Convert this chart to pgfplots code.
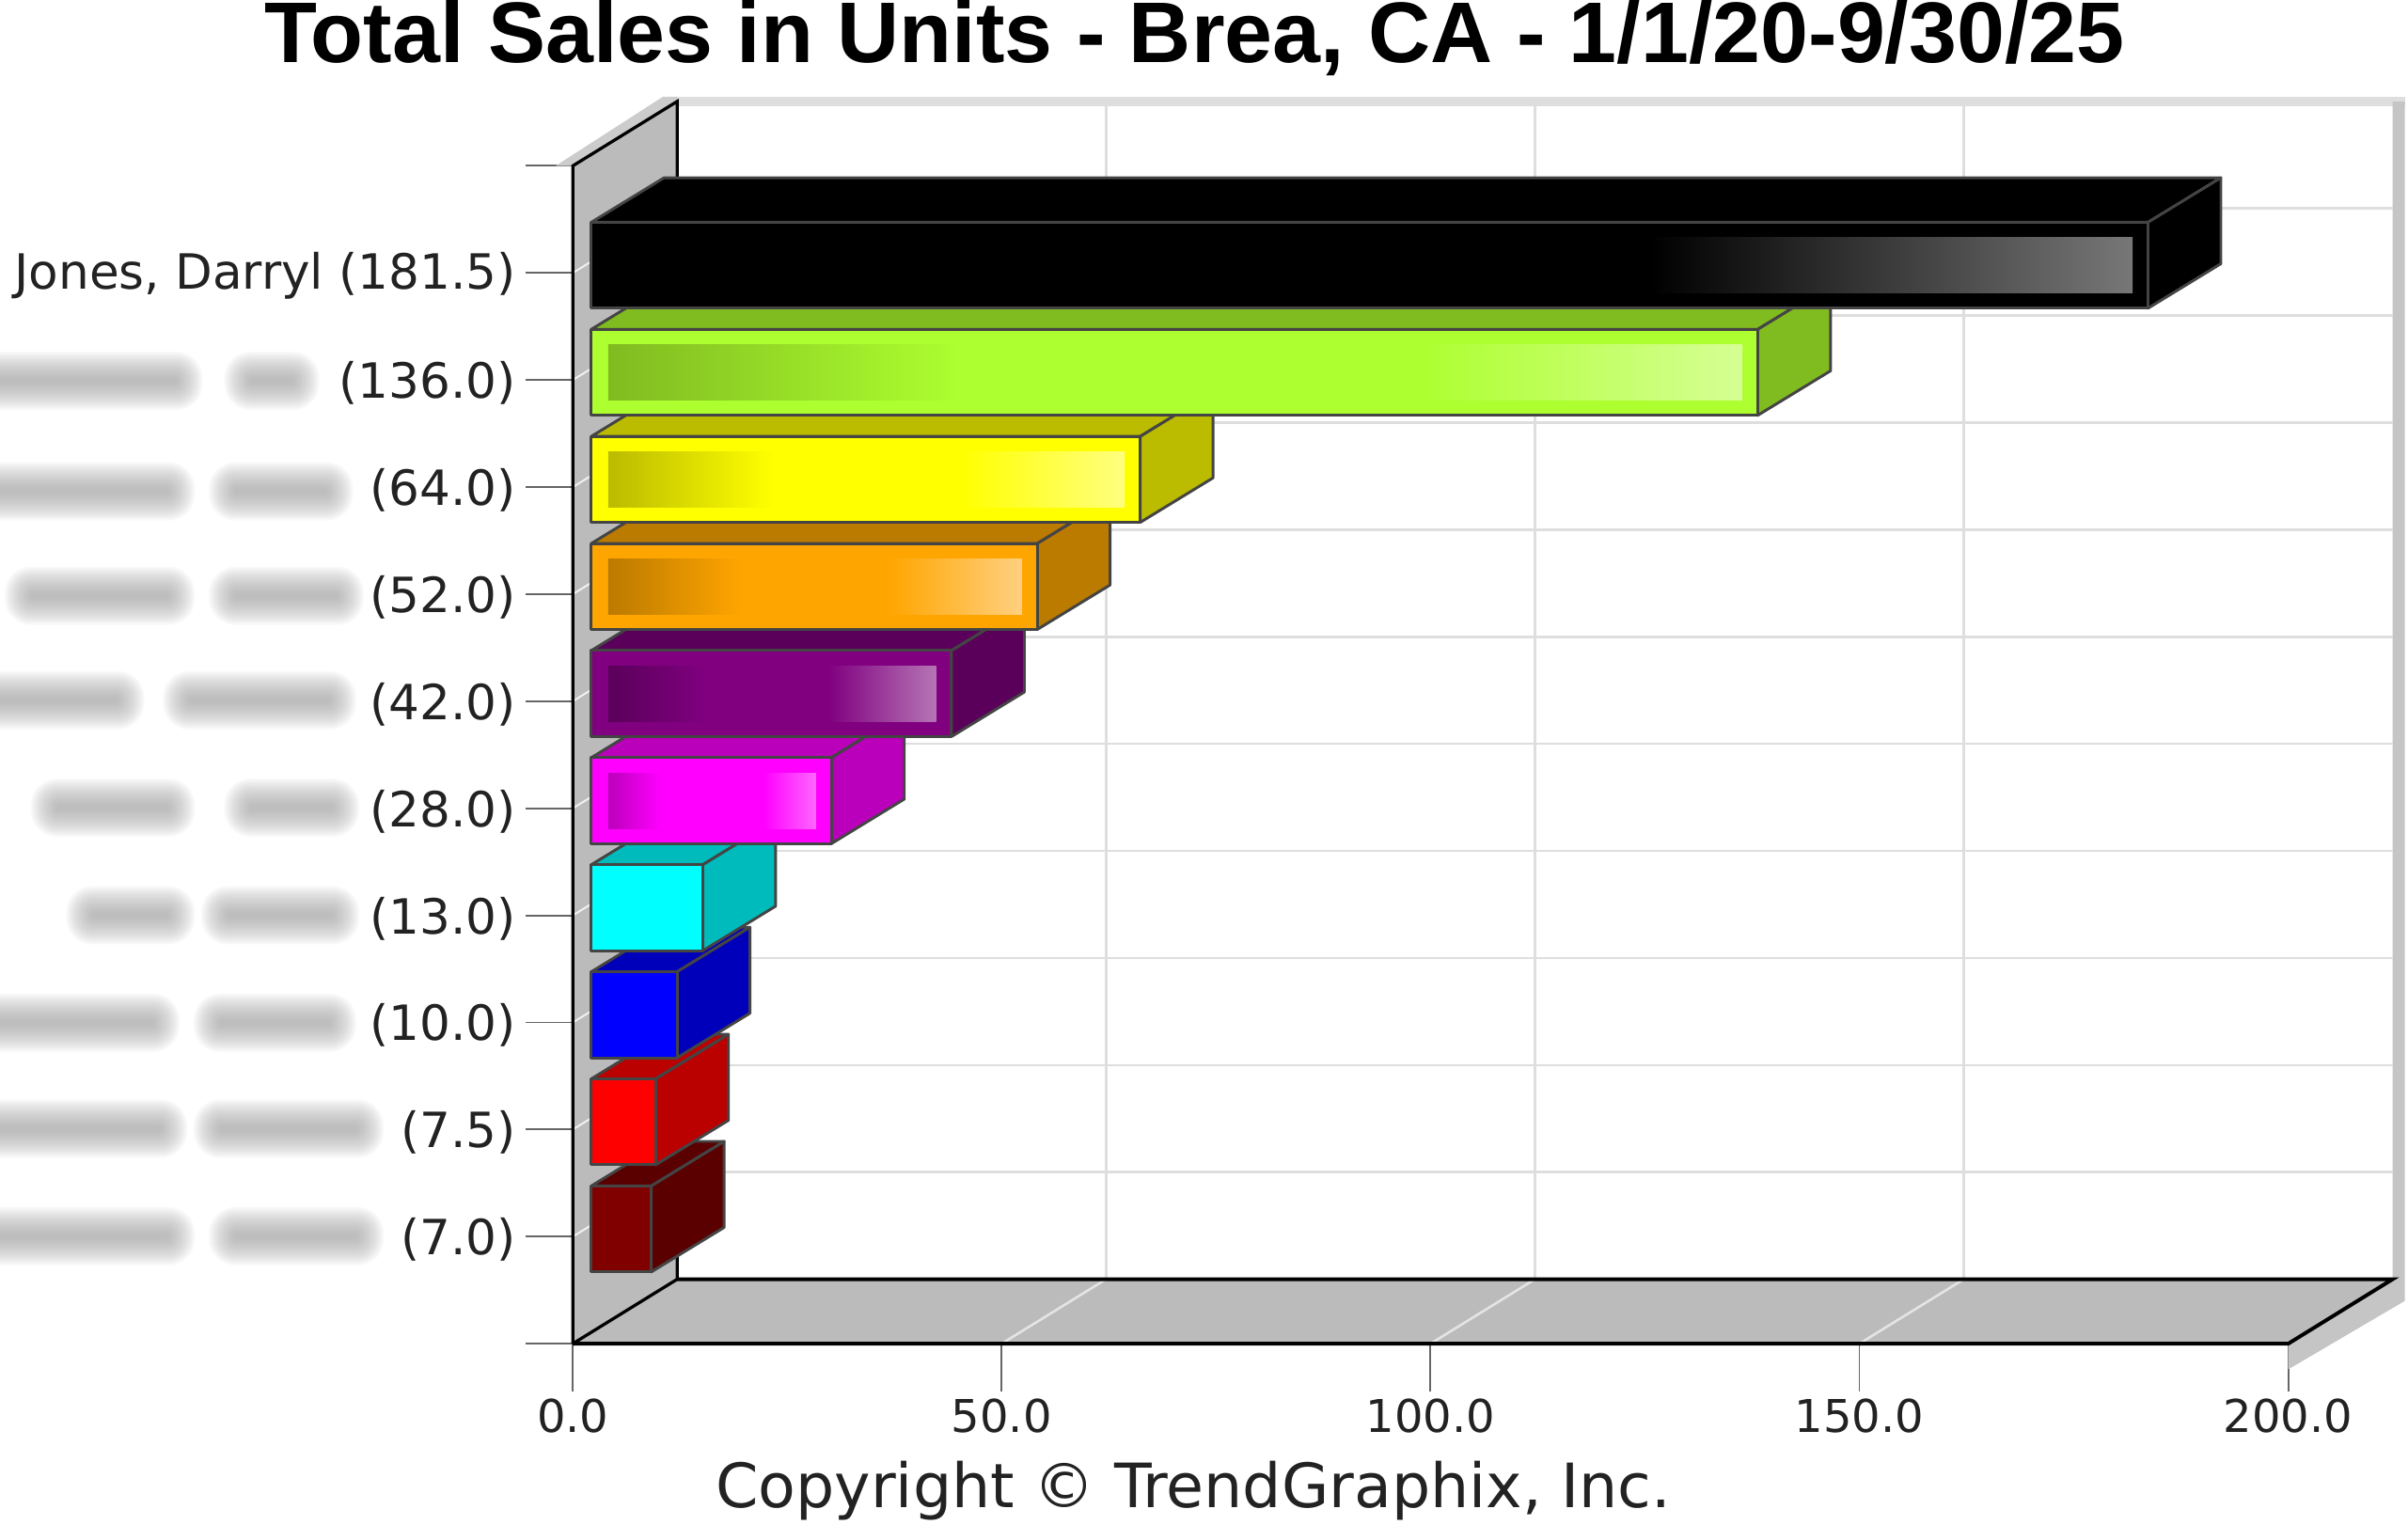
\documentclass[border=0pt]{standalone}
\usepackage{pgfplots}
\pgfplotsset{compat=1.18}
\usepackage{fontspec}
\setmainfont{DejaVu Sans}
\newfontfamily\titlefont{Liberation Sans}
\definecolor{wall}{HTML}{BBBBBB}
\definecolor{gridc}{HTML}{DEDEDE}
\definecolor{edgec}{HTML}{444444}
\definecolor{tickc}{HTML}{666666}
\definecolor{labc}{HTML}{222222}
\definecolor{dredF}{HTML}{800000}\definecolor{dredS}{HTML}{5A0000}
\definecolor{redF}{HTML}{FF0000}\definecolor{redS}{HTML}{BB0000}
\definecolor{bluF}{HTML}{0000FF}\definecolor{bluS}{HTML}{0000BB}
\definecolor{cyaF}{HTML}{00FFFF}\definecolor{cyaS}{HTML}{00BBBB}
\definecolor{magF}{HTML}{FF00FF}\definecolor{magS}{HTML}{BB00BB}\definecolor{magL}{HTML}{FF66FF}
\definecolor{purF}{HTML}{800080}\definecolor{purS}{HTML}{5A005A}\definecolor{purL}{HTML}{B575B5}
\definecolor{oraF}{HTML}{FFA500}\definecolor{oraS}{HTML}{BB7A00}\definecolor{oraL}{HTML}{FFD080}
\definecolor{yelF}{HTML}{FFFF00}\definecolor{yelS}{HTML}{BBBB00}\definecolor{yelL}{HTML}{FFFF80}
\definecolor{greF}{HTML}{ADFF2F}\definecolor{greS}{HTML}{80BB20}\definecolor{greL}{HTML}{D6FF94}
\definecolor{blaL}{HTML}{777777}
% geometry, in data units: bar offset from the wall front, bar depth, wall depth
\def\ox{2.15}\def\wx{12.175}\def\wy{0.602}\def\dx{8.5}\def\dy{0.416}
% #1 value, #2 row, #3 face, #4 side, #5 highlight colour, #6 dark-left share, #7 light-right share
\newcommand\threedbar[7]{%
  \pgfmathsetmacro\xa{\ox}%
  \pgfmathsetmacro\xb{#1+\ox}%
  \pgfmathsetmacro\ya{#2-0.33}%
  \pgfmathsetmacro\yb{#2+0.473}%
  \pgfmathsetmacro\xc{\xb+\dx}%
  \pgfmathsetmacro\xd{\xa+\dx}%
  \pgfmathsetmacro\yc{\ya+\dy}%
  \pgfmathsetmacro\yd{\yb+\dy}%
  \addplot[fill=#4,draw=edgec,line width=0.9pt,line join=round] coordinates {(\xa,\yb)(\xd,\yd)(\xc,\yd)(\xb,\yb)} --cycle;
  \addplot[fill=#4,draw=edgec,line width=0.9pt,line join=round] coordinates {(\xb,\ya)(\xc,\yc)(\xc,\yd)(\xb,\yb)} --cycle;
  \addplot[fill=#3,draw=edgec,line width=0.9pt,line join=round] coordinates {(\xa,\ya)(\xb,\ya)(\xb,\yb)(\xa,\yb)} --cycle;
  \pgfmathsetmacro\ia{\xa+1.97}%
  \pgfmathsetmacro\ib{\xb-1.8}%
  \pgfmathsetmacro\ja{#2-0.187}%
  \pgfmathsetmacro\jb{#2+0.33}%
  \pgfmathsetmacro\ic{\ia+#6*#1}%
  \pgfmathsetmacro\id{\ib-#7*#1}%
  \ifdim#6pt>0pt
    \addplot[draw=none,left color=#4,right color=#3] coordinates {(\ia,\ja)(\ic,\ja)(\ic,\jb)(\ia,\jb)} --cycle;
  \fi
  \ifdim#7pt>0pt
    \addplot[draw=none,left color=#3,right color=#5] coordinates {(\id,\ja)(\ib,\ja)(\ib,\jb)(\id,\jb)} --cycle;
  \fi
}
% soft blob where the reference has blurred a name: #1,#2 extent and #3 row height, in reference units
\newcommand\blob[3]{%
  \foreach \g in {0,0.5,...,8.5}{%
    \pgfmathsetmacro\bxa{(#1-373)*0.5+\g}%
    \pgfmathsetmacro\bxb{(#2-373)*0.5-\g}%
    \pgfmathsetmacro\bya{(875-#3)*0.5-9.5+\g}%
    \pgfmathsetmacro\byb{(875-#3)*0.5+9.5-\g}%
    \pgfmathsetmacro\brad{(9.5-\g)*0.9}%
    \fill[black!40,opacity=0.055,rounded corners=\brad pt] (\bxa pt,\bya pt) rectangle (\bxb pt,\byb pt);
  }%
}
\begin{document}
\begin{tikzpicture}[x=1pt,y=1pt]
\useasboundingbox (-186.5,-59) rectangle (597.5,437.5);
\blob{-30}{132}{248}\blob{146}{208}{248}
\blob{-30}{127}{320}\blob{136}{230}{320}
\blob{3}{127}{388}\blob{136}{237}{388}
\blob{-20}{94}{456}\blob{106}{232}{456}
\blob{20}{127}{526}\blob{146}{234}{526}
\blob{43}{127}{596}\blob{131}{234}{596}
\blob{-30}{117}{666}\blob{126}{232}{666}
\blob{-30}{122}{735}\blob{126}{250}{735}
\blob{-30}{127}{805}\blob{136}{250}{805}
\begin{axis}[
  at={(0pt,0pt)},anchor=origin,
  scale only axis,width=558.5pt,height=383.5pt,
  xmin=0,xmax=200,ymin=0,ymax=11,clip=false,
  axis x line*=bottom,axis y line*=left,
  axis line style={draw=none},
  xtick={0,50,100,150,200},
  xticklabels={0.0,50.0,100.0,150.0,200.0},
  ytick={0,1,...,11},
  yticklabels={{},{(7.0)},{(7.5)},{(10.0)},{(13.0)},{(28.0)},{(42.0)},{(52.0)},{(64.0)},{(136.0)},{Jones, Darryl (181.5)},{}},
  tick style={draw=tickc,line width=0.6pt},
  major tick length=15.5pt,
  tick align=outside,
  ticklabel style={text=labc},
  xticklabel style={font=\fontsize{14.7}{16}\selectfont,yshift=1pt},
  yticklabel style={font=\fontsize{15.8}{18}\selectfont,yshift=-1pt,xshift=0.5pt},
  xlabel={Copyright © TrendGraphix, Inc.},
  xlabel style={at={(axis description cs:0.3618,-0.125)},anchor=center,font=\fontsize{19.9}{22}\selectfont,text=labc},
  title={Total Sales in Units - Brea, CA - 1/1/20-9/30/25},
  title style={at={(axis description cs:0.3626,1.0717)},anchor=base,font=\titlefont\bfseries\fontsize{28.03}{32}\selectfont,text=black},
]
% shadow bands behind the walls
\addplot[fill=gridc,draw=none] coordinates {(12.175,11.645)(213.6,11.645)(213.6,11.56)(12.175,11.56)} --cycle;
\addplot[fill=wall!85,draw=none] coordinates {(212.175,11.6)(213.6,11.6)(213.6,0.4)(200,-0.24)(200,0)(212.175,0.602)} --cycle;
\addplot[fill=wall!75,draw=none] coordinates {(-2,11)(0,11)(12.175,11.602)(12.175,11.645)(10.5,11.645)} --cycle;
% left wall and floor
\addplot[fill=wall,draw=none] coordinates {(0,0)(0,11)(12.175,11.602)(12.175,0.602)} --cycle;
\addplot[fill=wall,draw=none] coordinates {(0,0)(12.175,0.602)(212.175,0.602)(200,0)} --cycle;
% back-wall grid
\pgfplotsinvokeforeach{1,2,...,10}{
  \pgfmathsetmacro\yy{#1+\wy}
  \addplot[draw=gridc,line width=0.8pt] coordinates {(12.175,\yy)(212.175,\yy)};
  \addplot[draw=white,line width=0.6pt,opacity=0.8] coordinates {(0,#1)(12.175,\yy)};
}
\pgfplotsinvokeforeach{50,100,150}{
  \pgfmathsetmacro\xx{#1+\wx}
  \addplot[draw=gridc,line width=0.8pt] coordinates {(\xx,0.602)(\xx,11.602)};
  \addplot[draw=white!60!wall,line width=0.8pt] coordinates {(#1,0)(\xx,0.602)};
}
% wall outlines
\addplot[draw=black,line width=1pt] coordinates {(0,0)(0,11)(12.175,11.602)(12.175,0.602)(0,0)};
\addplot[draw=black,line width=1.2pt] coordinates {(12.175,0.602)(212.175,0.602)(200,0)(0,0)};
% bars, from the lowest row up
\threedbar{7.0}{1}{dredF}{dredS}{dredF}{0}{0}
\threedbar{7.5}{2}{redF}{redS}{redF}{0}{0}
\threedbar{10.0}{3}{bluF}{bluS}{bluF}{0}{0}
\threedbar{13.0}{4}{cyaF}{cyaS}{cyaF}{0}{0}
\threedbar{28.0}{5}{magF}{magS}{magL}{0.22}{0.22}
\threedbar{42.0}{6}{purF}{purS}{purL}{0.27}{0.3}
\threedbar{52.0}{7}{oraF}{oraS}{oraL}{0.3}{0.3}
\threedbar{64.0}{8}{yelF}{yelS}{yelL}{0.3}{0.3}
\threedbar{136.0}{9}{greF}{greS}{greL}{0.3}{0.28}
\threedbar{181.5}{10}{black}{black}{blaL}{0}{0.31}
\end{axis}
\end{tikzpicture}
\end{document}
